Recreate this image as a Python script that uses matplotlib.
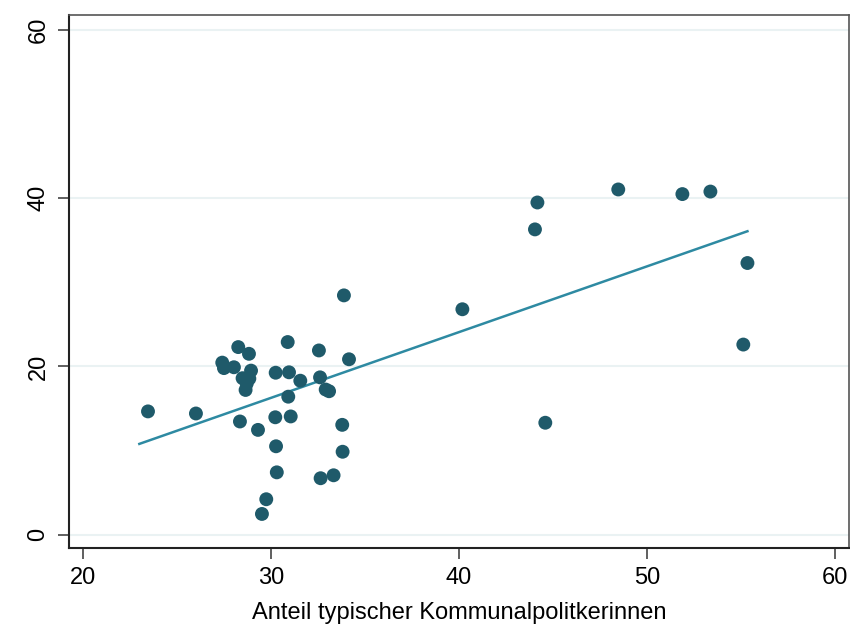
import numpy as np
import matplotlib.pyplot as plt

plt.rcParams['font.family'] = ['Liberation Sans', 'DejaVu Sans']

# Anteil typischer Kommunalpolitikerinnen (x) vs. Frauenanteil (y)
anteil = [23.46, 26.01, 27.41, 27.50, 28.03, 28.26, 28.83, 28.94, 28.49, 28.85,
          28.71, 28.65, 28.35, 29.31, 29.52, 29.75, 30.25, 30.89, 30.96, 30.92,
          30.23, 31.05, 30.27, 30.31, 31.56, 32.55, 32.61, 32.91, 33.09, 33.88,
          34.15, 33.79, 33.81, 32.64, 33.33, 40.18, 44.17, 44.04, 44.59, 48.47,
          51.88, 53.37, 55.34, 55.12]
wert = [14.65, 14.4, 20.45, 19.8, 19.9, 22.3, 21.5, 19.5, 18.6, 18.55,
        17.95, 17.2, 13.45, 12.45, 2.45, 4.2, 19.25, 22.9, 19.3, 16.4,
        13.95, 14.05, 10.5, 7.4, 18.3, 21.9, 18.7, 17.25, 17.05, 28.45,
        20.85, 13.05, 9.85, 6.7, 7.05, 26.8, 39.5, 36.3, 13.3, 41.05,
        40.5, 40.8, 32.3, 22.6]

xticks = [20, 30, 40, 50, 60]
yticks = [0, 20, 40, 60]

x = np.array(anteil)
y = np.array(wert)
b, a = np.polyfit(x, y, 1)
xf = np.array([23.0, x.max()])

fig = plt.figure(figsize=(8.5, 6.26), dpi=100)
ax = fig.add_axes([0.0812, 0.1246, 0.9176, 0.8514])

for t in yticks:
    ax.axhline(t, color='#eaf2f3', linewidth=1.5, zorder=0)

ax.scatter(x, y, s=100, color='#1f5a6a', edgecolors='none', zorder=3)
ax.plot(xf, a + b * xf, color='#2e8aa2', linewidth=1.8, zorder=2)

ax.set_xlim(19.26, 60.74)
ax.set_ylim(-1.6, 61.8)
ax.set_xticks(xticks)
ax.set_yticks(yticks)
ax.tick_params(axis='both', direction='out', length=8, width=1.2,
               color='#444444', labelsize=17, pad=6)
plt.setp(ax.get_yticklabels(), rotation=90, va='center')

for s in ['left', 'bottom']:
    ax.spines[s].set_color('#222222')
    ax.spines[s].set_linewidth(1.5)
for s in ['top', 'right']:
    ax.spines[s].set_color('#555555')
    ax.spines[s].set_linewidth(1.2)

ax.set_xlabel('Anteil typischer Kommunalpolitkerinnen', fontsize=17, labelpad=9)

fig.savefig('out.png', dpi=100)
